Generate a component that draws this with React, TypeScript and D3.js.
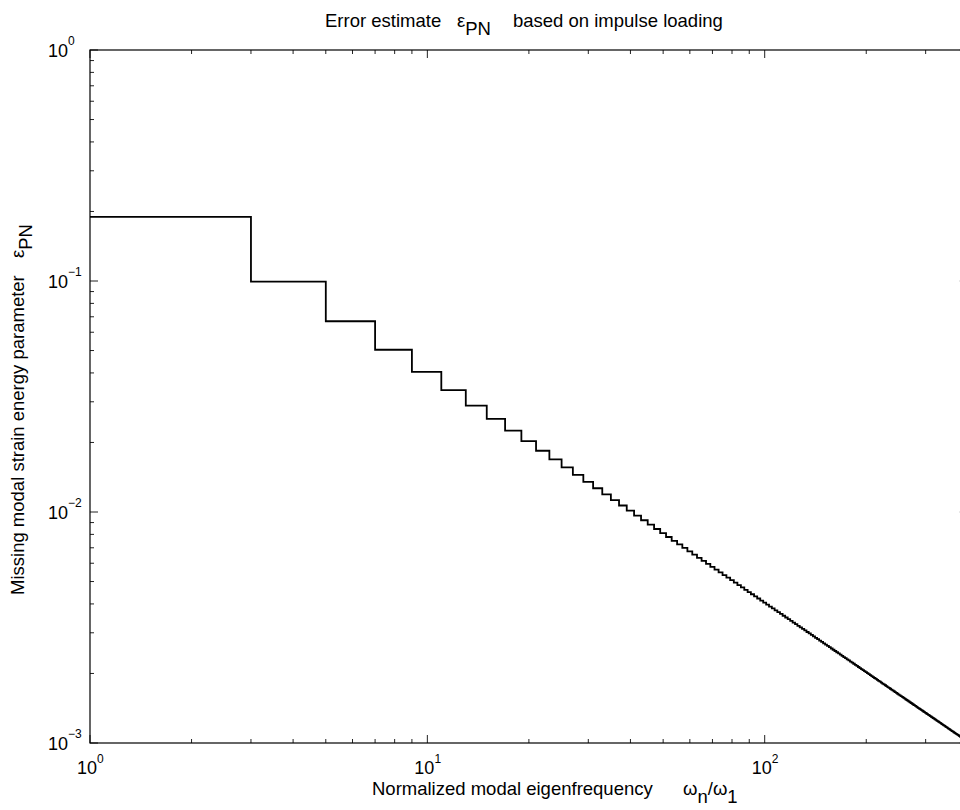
import React from "react";
import * as d3 from "d3";

// Mode numbers (odd modes 1, 3, 5, ..., 399) and the read missing strain energy parameter after each mode
const modeNumbers: number[] = d3.range(1, 400, 2);
const epsilonValues: number[] = [
  0.18943, 0.09937, 0.06694, 0.0504, 0.0404, 0.0337, 0.0289, 0.0253, 0.02249, 0.02025,
  0.01841, 0.01689, 0.01559, 0.01447, 0.01351, 0.01267, 0.01192, 0.01126, 0.01067, 0.01013,
  0.00965, 0.00921, 0.00881, 0.008443, 0.008106, 0.007794, 0.007505, 0.007237, 0.006988, 0.006755,
  0.006537, 0.006333, 0.006141, 0.00596, 0.00579, 0.005629, 0.005477, 0.005333, 0.005196, 0.005066,
  0.004942, 0.004825, 0.004713, 0.004605, 0.004503, 0.004405, 0.004312, 0.004222, 0.004136, 0.004053,
  0.003973, 0.003897, 0.003823, 0.003753, 0.003684, 0.003619, 0.003555, 0.003494, 0.003435, 0.003377,
  0.003322, 0.003268, 0.003217, 0.003166, 0.003118, 0.00307, 0.003024, 0.00298, 0.002937, 0.002895,
  0.002854, 0.002814, 0.002776, 0.002738, 0.002702, 0.002666, 0.002632, 0.002598, 0.002565, 0.002533,
  0.002502, 0.002471, 0.002441, 0.002412, 0.002384, 0.002356, 0.002329, 0.002303, 0.002277, 0.002252,
  0.002227, 0.002203, 0.002179, 0.002156, 0.002133, 0.002111, 0.002089, 0.002068, 0.002047, 0.002026,
  0.002006, 0.001987, 0.001967, 0.001948, 0.00193, 0.001912, 0.001894, 0.001876, 0.001859, 0.001842,
  0.001826, 0.001809, 0.001793, 0.001778, 0.001762, 0.001747, 0.001732, 0.001717, 0.001703, 0.001689,
  0.001675, 0.001661, 0.001647, 0.001634, 0.001621, 0.001608, 0.001596, 0.001583, 0.001571, 0.001559,
  0.001547, 0.001535, 0.001524, 0.001512, 0.001501, 0.00149, 0.001479, 0.001468, 0.001458, 0.001447,
  0.001437, 0.001427, 0.001417, 0.001407, 0.001398, 0.001388, 0.001379, 0.001369, 0.00136, 0.001351,
  0.001342, 0.001333, 0.001324, 0.001316, 0.001307, 0.001299, 0.001291, 0.001283, 0.001274, 0.001267,
  0.001259, 0.001251, 0.001243, 0.001236, 0.001228, 0.001221, 0.001213, 0.001206, 0.001199, 0.001192,
  0.001185, 0.001178, 0.001171, 0.001165, 0.001158, 0.001151, 0.001145, 0.001138, 0.001132, 0.001126,
  0.00112, 0.001113, 0.001107, 0.001101, 0.001095, 0.001089, 0.001084, 0.001078, 0.001072, 0.001067,
  0.001061, 0.001055, 0.00105, 0.001045, 0.001039, 0.001034, 0.001029, 0.001023, 0.001018, 0.001013,
];

const xDomain: [number, number] = [1, 400];
const yDomain: [number, number] = [1e-3, 1];
const xMajorTicks = [1, 10, 100];
const xTickExps = ["0", "1", "2"];
const yMajorTicks = [1, 0.1, 0.01, 0.001];
const yTickExps = ["0", "\u22121", "\u22122", "\u22123"];

const W = 960;
const H = 810;
const left = 90;
const right = 967.8;
const top = 50;
const bottom = 743;

const FONT = "'Liberation Sans', Arial, Helvetica, sans-serif";
const LABEL = 18.5;

export default function App() {
  const x = d3.scaleLog().domain(xDomain).range([left, right]);
  const y = d3.scaleLog().domain(yDomain).range([bottom, top]);

  const pts: [number, number][] = modeNumbers.map((m, i) => [m, epsilonValues[i]]);
  pts.push([xDomain[1], epsilonValues[epsilonValues.length - 1]]);
  const line = d3
    .line<[number, number]>()
    .x((d) => x(d[0]))
    .y((d) => y(d[1]))
    .curve(d3.curveStepAfter);

  const xMinor: number[] = [];
  for (const dec of [1, 10, 100]) {
    for (let k = 2; k <= 9; k++) {
      const v = dec * k;
      if (v <= xDomain[1]) xMinor.push(v);
    }
  }
  const yMinor: number[] = [];
  for (const dec of [0.001, 0.01, 0.1]) {
    for (let k = 2; k <= 9; k++) yMinor.push(dec * k);
  }

  const major = 8;
  const minor = 4;
  const tickColor = "#222";

  return (
    <svg
      width={W}
      height={H}
      style={{ position: "absolute", left: 0, top: 0, background: "#fff" }}
      fontFamily={FONT}
    >
      <rect x={0} y={0} width={W} height={H} fill="#fff" />
      {/* ticks */}
      <g stroke={tickColor} strokeWidth={1}>
        {xMajorTicks.map((t) => (
          <g key={"xm" + t}>
            <line x1={x(t)} x2={x(t)} y1={bottom} y2={bottom - major} />
            <line x1={x(t)} x2={x(t)} y1={top} y2={top + major} />
          </g>
        ))}
        {xMinor.map((t) => (
          <g key={"xn" + t}>
            <line x1={x(t)} x2={x(t)} y1={bottom} y2={bottom - minor} />
            <line x1={x(t)} x2={x(t)} y1={top} y2={top + minor} />
          </g>
        ))}
        {yMajorTicks.map((t) => (
          <g key={"ym" + t}>
            <line x1={left} x2={left + major} y1={y(t)} y2={y(t)} />
            <line x1={right} x2={right - major} y1={y(t)} y2={y(t)} />
          </g>
        ))}
        {yMinor.map((t) => (
          <g key={"yn" + t}>
            <line x1={left} x2={left + minor} y1={y(t)} y2={y(t)} />
            <line x1={right} x2={right - minor} y1={y(t)} y2={y(t)} />
          </g>
        ))}
      </g>
      {/* axes box */}
      <rect
        x={left}
        y={top}
        width={right - left}
        height={bottom - top}
        fill="none"
        stroke="#000"
        strokeWidth={1.2}
      />
      {/* data */}
      <path d={line(pts) || ""} fill="none" stroke="#000" strokeWidth={1.8} strokeLinejoin="miter" />

      {/* x tick labels */}
      {xMajorTicks.map((t, i) => (
        <text key={"xl" + t} x={x(t) - 13} y={774} fontSize={18} fill="#000">
          10
          <tspan dy={-11} fontSize={12}>
            {xTickExps[i]}
          </tspan>
        </text>
      ))}
      {/* y tick labels */}
      {yMajorTicks.map((t, i) => (
        <text key={"yl" + t} x={48} y={y(t) + 7} fontSize={18} fill="#000">
          10
          <tspan dy={-12} fontSize={12}>
            {yTickExps[i]}
          </tspan>
        </text>
      ))}

      {/* title */}
      <text x={325} y={27} fontSize={LABEL} fill="#000">
        Error estimate
      </text>
      <text x={457} y={27} fontSize={LABEL} fill="#000">
        ε
        <tspan dy={8} fontSize={LABEL}>
          PN
        </tspan>
      </text>
      <text x={513} y={27} fontSize={LABEL} fill="#000">
        based on impulse loading
      </text>

      {/* x label */}
      <text x={372} y={795} fontSize={LABEL} fill="#000">
        Normalized modal eigenfrequency
      </text>
      <text x={683} y={795} fontSize={LABEL} fill="#000">
        ω
        <tspan dy={8}>n</tspan>
        <tspan dy={-8}>/ω</tspan>
        <tspan dy={8}>1</tspan>
      </text>

      {/* y label */}
      <g transform="translate(24,595) rotate(-90)">
        <text x={0} y={0} fontSize={LABEL} fill="#000">
          Missing modal strain energy parameter
        </text>
        <text x={337} y={0} fontSize={LABEL} fill="#000">
          ε
          <tspan dy={8}>PN</tspan>
        </text>
      </g>
    </svg>
  );
}
